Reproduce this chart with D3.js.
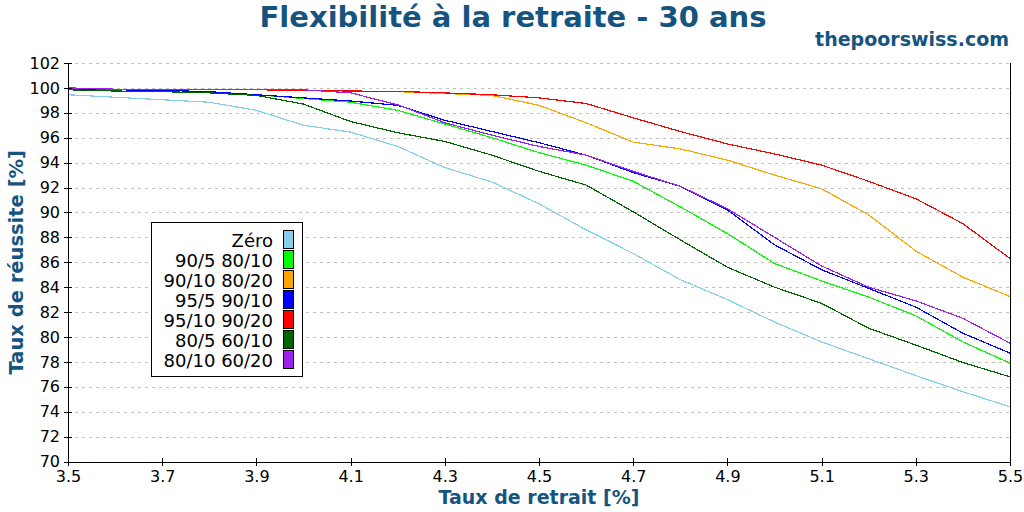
<!DOCTYPE html>
<html>
<head>
<meta charset="utf-8">
<script src="https://cdn.jsdelivr.net/npm/d3@7"></script>
<style>
  body { margin: 0; background: #fff; }
  text { font-family: "DejaVu Sans", sans-serif; }
</style>
</head>
<body>
<div id="chart"></div>
<script>
// withdrawal rates (x)
const rates = [3.5, 3.6, 3.7, 3.8, 3.9, 4.0, 4.1, 4.2, 4.3, 4.4, 4.5, 4.6, 4.7, 4.8, 4.9, 5.0, 5.1, 5.2, 5.3, 5.4, 5.5];

// success rates per flexibility scenario
const zero     = [99.45, 99.25, 99.05, 98.85, 98.2, 97.0, 96.45, 95.3, 93.6, 92.45, 90.7, 88.6, 86.7, 84.6, 83.0, 81.2, 79.6, 78.25, 76.9, 75.6, 74.4];
const flex5_10 = [99.9, 99.85, 99.8, 99.7, 99.45, 99.15, 98.85, 98.2, 97.1, 96.0, 94.8, 93.8, 92.5, 90.45, 88.3, 85.9, 84.5, 83.2, 81.7, 79.6, 77.9];
const flex10_20 = [99.95, 99.9, 99.9, 99.85, 99.85, 99.8, 99.75, 99.7, 99.55, 99.4, 98.6, 97.2, 95.65, 95.1, 94.2, 93.0, 91.9, 89.8, 86.9, 84.8, 83.25];
const flex95_5 = [99.85, 99.85, 99.8, 99.7, 99.45, 99.2, 98.95, 98.6, 97.4, 96.5, 95.6, 94.6, 93.2, 92.1, 90.2, 87.4, 85.4, 83.9, 82.4, 80.3, 78.7];
const flex95_10 = [99.95, 99.9, 99.9, 99.85, 99.85, 99.8, 99.75, 99.72, 99.6, 99.45, 99.2, 98.75, 97.6, 96.5, 95.5, 94.7, 93.8, 92.5, 91.1, 89.1, 86.3];
const flex80_5 = [99.85, 99.75, 99.7, 99.6, 99.4, 98.7, 97.3, 96.4, 95.7, 94.6, 93.3, 92.2, 90.05, 87.8, 85.6, 84.0, 82.7, 80.7, 79.35, 77.95, 76.8];
const flex80_10 = [100.0, 99.9, 99.9, 99.9, 99.9, 99.85, 99.6, 98.65, 97.2, 96.2, 95.3, 94.6, 93.3, 92.1, 90.3, 88.0, 85.7, 84.0, 82.9, 81.5, 79.5];

const seriesNames = ["Zéro", "90/5 80/10", "90/10 80/20", "95/5 90/10", "95/10 90/20", "80/5 60/10", "80/10 60/20"];
const seriesValues = [zero, flex5_10, flex10_20, flex95_5, flex95_10, flex80_5, flex80_10];
const seriesColors = ["#87ceeb", "#00ff00", "#ffa500", "#0000ff", "#ff0000", "#006400", "#a020f0"];

const xTicks = [3.5, 3.7, 3.9, 4.1, 4.3, 4.5, 4.7, 4.9, 5.1, 5.3, 5.5];
const yTicks = [70, 72, 74, 76, 78, 80, 82, 84, 86, 88, 90, 92, 94, 96, 98, 100, 102];

const width = 1024;
const height = 512;
const plotLeft = 68, plotRight = 1010, plotTop = 63, plotBottom = 461.5;
const blue = "#165480";

const svg = d3.select("#chart")
  .append("svg")
  .attr("width", width)
  .attr("height", height);

const x = d3.scaleLinear().domain([3.5, 5.5]).range([plotLeft, plotRight]);
const y = d3.scaleLinear().domain([70, 102]).range([plotBottom, plotTop]);

// horizontal grid
svg.append("g")
  .selectAll("line")
  .data(yTicks.filter(d => d > 70))
  .enter()
  .append("line")
  .attr("x1", plotLeft)
  .attr("x2", plotRight)
  .attr("y1", d => Math.round(y(d)) + 0.5)
  .attr("y2", d => Math.round(y(d)) + 0.5)
  .attr("stroke", "#c0c0c0")
  .attr("stroke-dasharray", "3,4")
  .attr("shape-rendering", "crispEdges");

// curves
const line = d3.line()
  .x((d, i) => x(rates[i]))
  .y(d => y(d));

svg.append("g")
  .selectAll("path")
  .data(seriesValues)
  .enter()
  .append("path")
  .attr("d", d => line(d))
  .attr("fill", "none")
  .attr("stroke", (d, i) => seriesColors[i])
  .attr("stroke-width", 1.2)
  .attr("shape-rendering", "crispEdges");

// axes
const xAxis = svg.append("g")
  .attr("transform", `translate(0,${plotBottom})`)
  .call(d3.axisBottom(x).tickValues(xTicks).tickFormat(d3.format(".1f"))
    .tickSize(4).tickSizeOuter(0).tickPadding(5));
xAxis.selectAll(".tick line").attr("y1", -4);

const yAxis = svg.append("g")
  .attr("transform", `translate(${plotLeft},0)`)
  .call(d3.axisLeft(y).tickValues(yTicks).tickSize(4).tickSizeOuter(0).tickPadding(4));
yAxis.selectAll(".tick line").attr("x1", 4);

[xAxis, yAxis].forEach(g => {
  g.selectAll("text")
    .attr("font-size", 16)
    .attr("font-family", "DejaVu Sans")
    .attr("fill", "#000");
  g.selectAll("line, path").attr("stroke", "#000").attr("shape-rendering", "crispEdges");
});

// right border
svg.append("line")
  .attr("x1", plotRight).attr("x2", plotRight)
  .attr("y1", plotTop).attr("y2", plotBottom)
  .attr("stroke", "#000")
  .attr("shape-rendering", "crispEdges");

// titles
svg.append("text")
  .attr("x", 513)
  .attr("y", 27)
  .attr("text-anchor", "middle")
  .attr("font-size", 29)
  .attr("font-weight", "bold")
  .attr("fill", blue)
  .text("Flexibilité à la retraite - 30 ans");

svg.append("text")
  .attr("x", 1009)
  .attr("y", 46)
  .attr("text-anchor", "end")
  .attr("font-size", 19)
  .attr("font-weight", "bold")
  .attr("fill", blue)
  .text("thepoorswiss.com");

svg.append("text")
  .attr("x", (plotLeft + plotRight) / 2)
  .attr("y", 504)
  .attr("text-anchor", "middle")
  .attr("font-size", 19)
  .attr("font-weight", "bold")
  .attr("fill", blue)
  .text("Taux de retrait [%]");

svg.append("text")
  .attr("transform", `translate(23,${(plotTop + plotBottom) / 2}) rotate(-90)`)
  .attr("text-anchor", "middle")
  .attr("font-size", 19.5)
  .attr("font-weight", "bold")
  .attr("fill", blue)
  .text("Taux de réussite [%]");

// legend
const legend = svg.append("g").attr("id", "legend");

legend.append("rect")
  .attr("x", 151.5)
  .attr("y", 222.5)
  .attr("width", 151)
  .attr("height", 154)
  .attr("fill", "#fff")
  .attr("stroke", "#000")
  .attr("shape-rendering", "crispEdges");

legend.selectAll(".legend-item")
  .data(seriesNames)
  .enter()
  .append("rect")
  .attr("class", "legend-item")
  .attr("x", 283.5)
  .attr("y", (d, i) => 230.5 + i * 20)
  .attr("width", 10)
  .attr("height", 18)
  .attr("fill", (d, i) => seriesColors[i])
  .attr("stroke", "#000")
  .attr("shape-rendering", "crispEdges");

legend.selectAll("text")
  .data(seriesNames)
  .enter()
  .append("text")
  .attr("x", 273)
  .attr("y", (d, i) => 246.5 + i * 20)
  .attr("text-anchor", "end")
  .attr("font-size", 18)
  .attr("fill", "#000")
  .text(d => d);
</script>
</body>
</html>
